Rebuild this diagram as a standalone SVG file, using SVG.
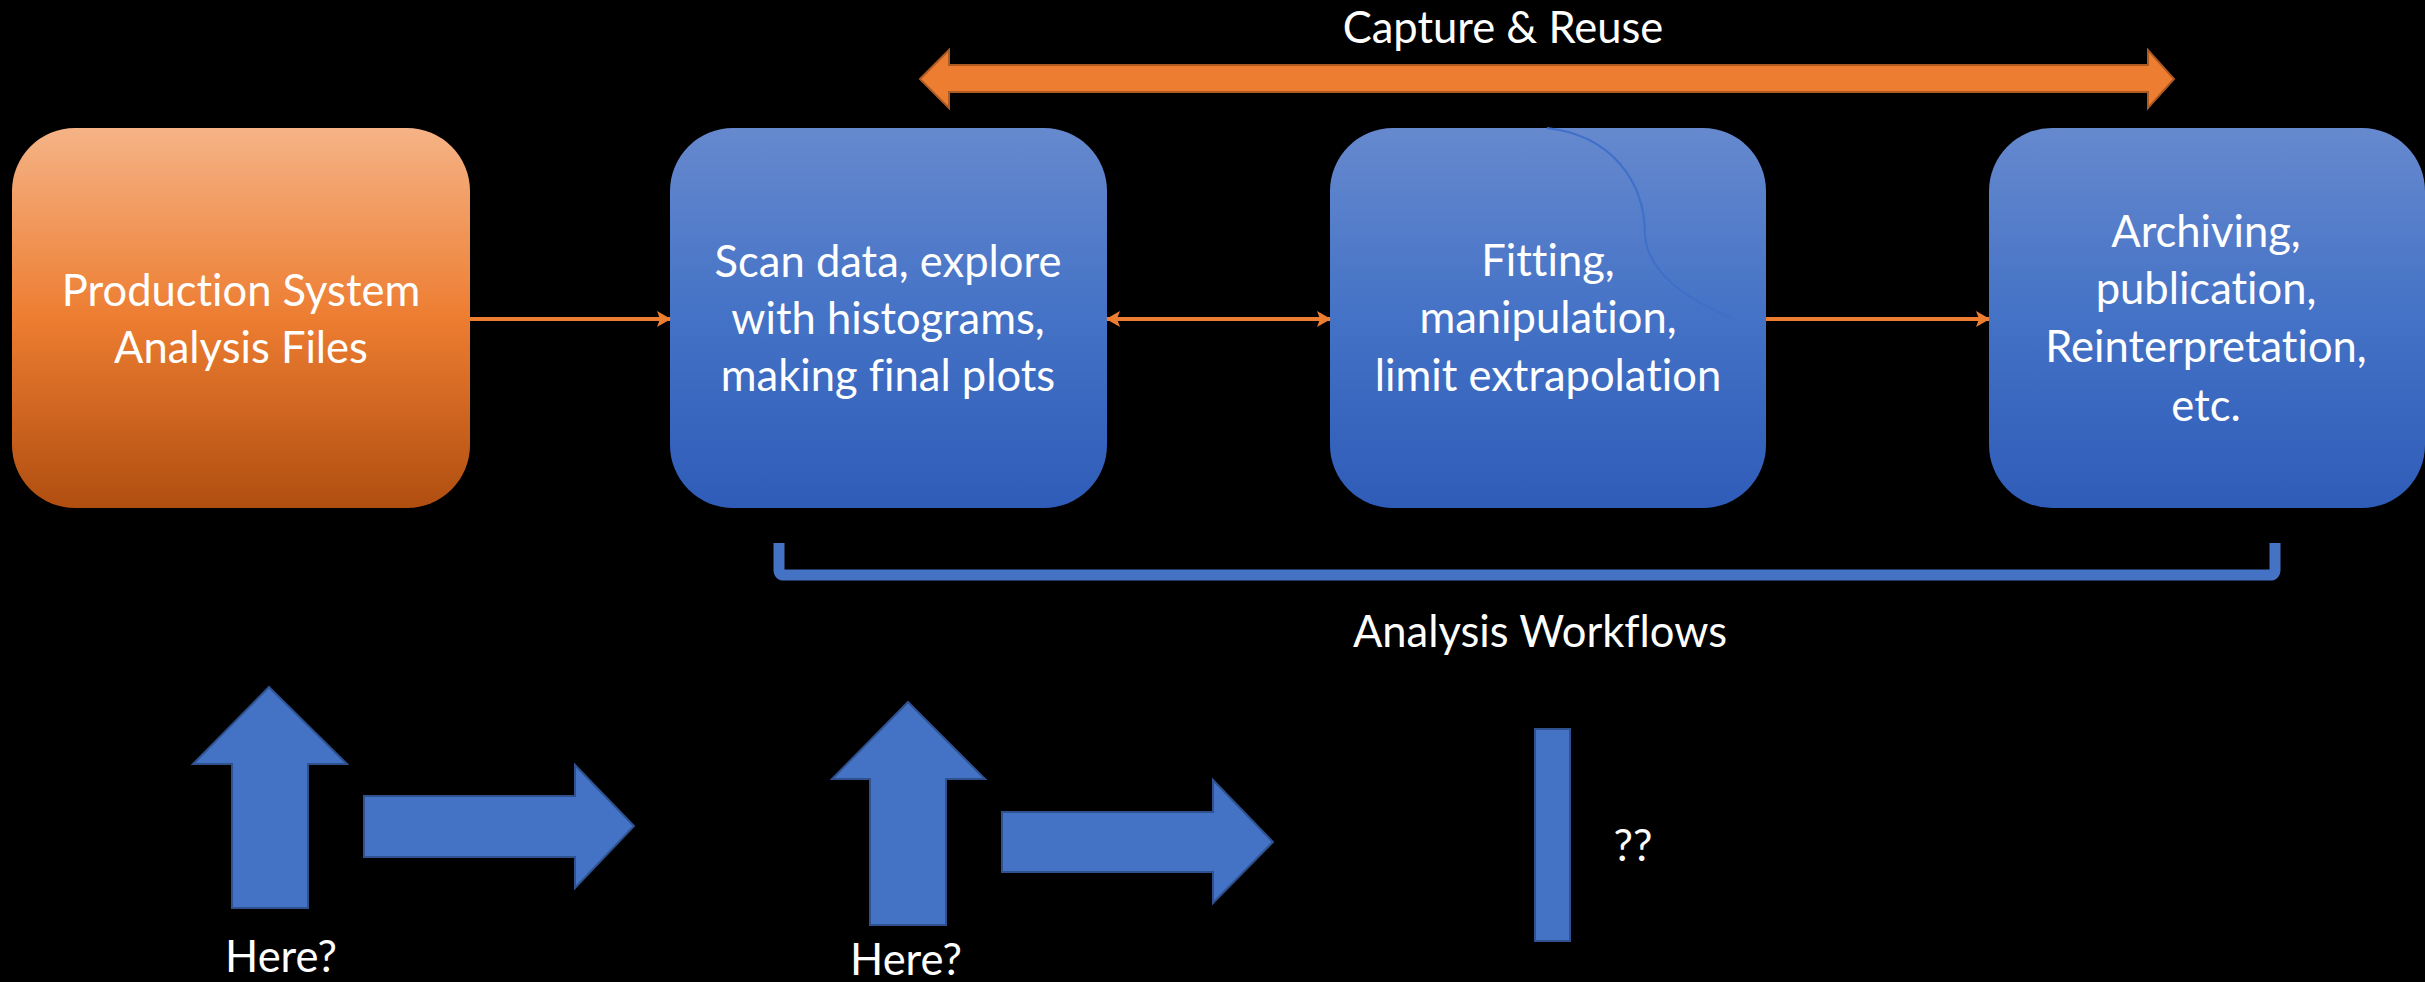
<svg xmlns="http://www.w3.org/2000/svg" width="2425" height="982" viewBox="0 0 2425 982">
<style>
.t{font-family:Lato,"Open Sans","Liberation Sans",sans-serif;font-size:43.5px;fill:#fff;text-anchor:middle;font-variant-ligatures:none;font-feature-settings:"liga" 0}
.blk{fill:#4472C4;stroke:#2F528F;stroke-width:2}
.conn{stroke:#ED7D31;stroke-width:4;fill:none}
</style>
<defs>
<linearGradient id="og" x1="0" y1="0" x2="0" y2="1">
<stop offset="0" stop-color="#F5B386"/>
<stop offset="0.5" stop-color="#ED7D31"/>
<stop offset="1" stop-color="#B04E10"/>
</linearGradient>
<linearGradient id="bg" x1="0" y1="0" x2="0" y2="1">
<stop offset="0" stop-color="#6689CE"/>
<stop offset="0.5" stop-color="#4472C6"/>
<stop offset="1" stop-color="#2E5CB8"/>
</linearGradient>
<marker id="ah" viewBox="0 0 14 16" refX="13" refY="8" markerWidth="14" markerHeight="16" orient="auto-start-reverse" markerUnits="userSpaceOnUse">
<path d="M0,0 L14,8 L0,16 L3,8 z" fill="#ED7D31"/>
</marker>
</defs>
<rect width="2425" height="982" fill="#000"/>

<g id="capture-reuse">
<polygon points="920,79 949,50 949,65 2148,65 2148,50 2174,79 2148,108 2148,92 949,92 949,108" fill="#ED7D31" stroke="#AE5A21" stroke-width="2"/>
<text class="t" x="1503" y="43">Capture &amp; Reuse</text>
</g>

<g id="production">
<rect x="12" y="128" width="458" height="380" rx="63" ry="63" fill="url(#og)"/>
<text class="t" x="241" y="306">Production System</text>
<text class="t" x="241" y="363">Analysis Files</text>
</g>

<g id="scan">
<rect x="670" y="128" width="437" height="380" rx="63" ry="63" fill="url(#bg)"/>
<text class="t" x="888" y="277">Scan data, explore</text>
<text class="t" x="888" y="334">with histograms,</text>
<text class="t" x="888" y="391">making final plots</text>
</g>

<g id="fitting">
<rect x="1330" y="128" width="436" height="380" rx="63" ry="63" fill="url(#bg)"/>
<path d="M1547,128 C1610,135 1645,180 1645,235 C1648,275 1690,300 1731,318" fill="none" stroke="#3F6FC8" stroke-width="2"/>
<text class="t" x="1548" y="276">Fitting,</text>
<text class="t" x="1548" y="333">manipulation,</text>
<text class="t" x="1548" y="391">limit extrapolation</text>
</g>

<g id="archiving">
<rect x="1989" y="128" width="436" height="380" rx="63" ry="63" fill="url(#bg)"/>
<text class="t" x="2206" y="247">Archiving,</text>
<text class="t" x="2206" y="304">publication,</text>
<text class="t" x="2206" y="362">Reinterpretation,</text>
<text class="t" x="2206" y="421">etc.</text>
</g>

<g id="connectors">
<line class="conn" x1="470" y1="319" x2="670" y2="319" marker-end="url(#ah)"/>
<line class="conn" x1="1107" y1="319" x2="1330" y2="319" marker-start="url(#ah)" marker-end="url(#ah)"/>
<line class="conn" x1="1766" y1="319" x2="1989" y2="319" marker-end="url(#ah)"/>
</g>

<g id="analysis-workflows">
<path d="M779,543 L779,570 Q779,575 784,575 L2270,575 Q2275,575 2275,570 L2275,543" fill="none" stroke="#4472C4" stroke-width="11"/>
<text class="t" x="1540" y="647">Analysis Workflows</text>
</g>

<g id="here1">
<polygon class="blk" points="269,687 347,764 308,764 308,908 232,908 232,764 193,764"/>
<text class="t" x="281" y="972">Here?</text>
</g>
<g id="right1">
<polygon class="blk" points="364,796 575,796 575,765 634,826 575,888 575,857 364,857"/>
</g>
<g id="here2">
<polygon class="blk" points="908,702 985,779 946,779 946,925 870,925 870,779 832,779"/>
<text class="t" x="906" y="975">Here?</text>
</g>
<g id="right2">
<polygon class="blk" points="1002,812 1213,812 1213,780 1273,842 1213,903 1213,872 1002,872"/>
</g>
<g id="bar">
<rect class="blk" x="1535" y="729" width="35" height="212"/>
<text class="t" x="1633" y="861">??</text>
</g>
</svg>
